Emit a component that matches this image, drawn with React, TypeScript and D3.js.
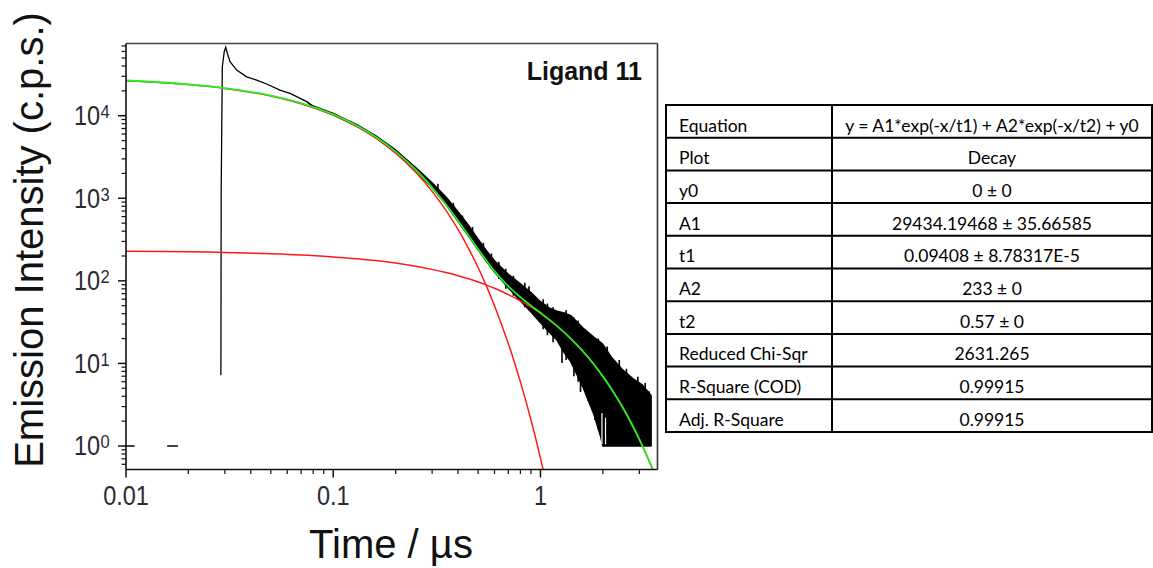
import React from 'react';
import * as d3 from 'd3';

// ---------- axis ticks ----------
const xMajorTicks = [0.01, 0.1, 1];
const xMajorLabels = ['0.01', '0.1', '1'];
const yMajorExponents = [0, 1, 2, 3, 4];

const baseline1Time = [0.01, 0.011];
const baseline1Counts = [1, 1];
const baseline2Time = [0.0158, 0.0178];
const baseline2Counts = [1, 1];

const riseTime = [0.0287, 0.0288, 0.02916, 0.02979, 0.03027, 0.03083, 0.03176, 0.0342, 0.0382, 0.0427, 0.0477, 0.0553, 0.0618, 0.0666, 0.0745];
const riseCounts = [7.2, 1320, 39200, 59600, 67300, 57000, 45100, 35700, 29600, 27000, 24200, 20400, 18600, 17000, 14800];

const bandTime = [0.0745, 0.08, 0.1, 0.13, 0.16, 0.2, 0.25, 0.3, 0.35, 0.4, 0.45, 0.5, 0.55, 0.6, 0.7, 0.8, 0.9, 1.0, 1.1, 1.2, 1.3, 1.4, 1.6, 1.8, 1.95, 2.0, 2.2, 2.5, 2.8, 3.1, 3.42];
const bandUpper = [14800, 13100, 10650, 7800, 5750, 3850, 2350, 1540, 1040, 690, 470, 320, 230, 175, 120, 92, 72, 56, 47, 43, 41, 38, 27, 21, 18, 17, 11.9, 8.3, 6.5, 5.5, 4.1];
const bandLower = [14800, 12700, 10250, 7450, 5450, 3600, 2150, 1340, 840, 525, 345, 238, 170, 128, 82, 57, 42, 31, 24, 19.2, 13.5, 10.5, 5.2, 2.5, 1.3, 1, 1, 1, 1, 1, 1];

// individual noise excursions of the trace
const spikeTime = [0.32, 0.38, 0.42, 0.47, 0.53, 0.58, 0.63, 0.68, 0.74, 0.84, 0.88, 1.03, 1.08, 1.15, 1.27, 1.33, 1.45, 1.52, 1.56, 1.7, 1.83, 1.9, 2.1, 2.29, 2.4, 2.6, 2.7, 2.95, 3.2, 3.34];
const spikeLow = [1150, 620, 440, 300, 195, 140, 105, 80, 66, 48, 44, 26, 22, 18, 10.1, 11, 7, 6, 4.5, 3.5, 2.06, 1.6, 1, 1, 1, 1, 1, 1, 1, 1];
const spikeHigh = [1500, 880, 620, 450, 290, 215, 170, 140, 115, 95, 86, 60, 53, 48, 38, 44, 36, 33, 27, 24, 18, 20, 16, 10.5, 11, 8.6, 6.3, 6.9, 5.8, 4.6];

// white gaps in the noisy floor
const gapTime = [1.98, 2.06];
const gapLow = [1.05, 1.05];
const gapHigh = [2.5, 2.2];

// ---------- fitted curves ----------
const fitTime = [0.01, 0.02, 0.03, 0.05, 0.07, 0.1, 0.13, 0.16, 0.2, 0.25, 0.3, 0.35, 0.4, 0.45, 0.5, 0.55, 0.6, 0.7, 0.8, 0.9, 1.0, 1.2, 1.4, 1.6, 1.8, 2.0, 2.2, 2.5, 2.8, 3.1, 3.4, 3.6];
const fitTotal = [26696, 24023, 21618, 17512, 14193, 10361, 7577, 5548, 3676, 2215, 1351, 840, 535, 352, 242, 174, 131, 85.5, 63.3, 50.1, 41.0, 28.5, 20.0, 14.07, 9.9, 6.97, 4.91, 2.9, 1.71, 1.01, 0.598, 0.42];

const comp1Time = [0.01, 0.02, 0.03, 0.05, 0.07, 0.1, 0.13, 0.16, 0.2, 0.25, 0.3, 0.35, 0.4, 0.45, 0.5, 0.55, 0.6, 0.7, 0.8, 0.9, 1.0, 1.1];
const comp1Counts = [26467, 23798, 21398, 17298, 13987, 10166, 7391, 5372, 3512, 2064, 1213, 714, 419, 246, 145, 85.1, 50.0, 17.3, 5.97, 2.06, 0.713, 0.246];

const comp2Time = [0.01, 0.02, 0.03, 0.05, 0.07, 0.1, 0.13, 0.16, 0.2, 0.25, 0.3, 0.35, 0.4, 0.45, 0.5, 0.55, 0.6, 0.7, 0.8, 0.9, 1.0, 1.2, 1.4, 1.6, 1.8, 2.0, 2.2, 2.5, 2.8, 3.1, 3.4, 3.6];
const comp2Counts = [229, 225, 221, 213, 206, 195, 185.5, 176, 164, 150, 137.7, 126, 115.5, 105.8, 96.9, 88.8, 81.3, 68.2, 57.3, 48.0, 40.3, 28.4, 20.0, 14.07, 9.9, 6.97, 4.91, 2.9, 1.71, 1.01, 0.598, 0.42];

// ---------- fit result table ----------
const tableParams = ['Equation', 'Plot', 'y0', 'A1', 't1', 'A2', 't2', 'Reduced Chi-Sqr', 'R-Square (COD)', 'Adj. R-Square'];
const tableValues = ['y = A1*exp(-x/t1) + A2*exp(-x/t2) + y0', 'Decay', '0 ± 0', '29434.19468 ± 35.66585', '0.09408 ± 8.78317E-5', '233 ± 0', '0.57 ± 0', '2631.265', '0.99915', '0.99915'];

const W = 1153;
const H = 568;
const PL = 126, PR = 657.5, PT = 43.5, PB = 469.5;

const zip = (a: number[], b: number[]) => a.map((v, i) => [v, b[i]] as [number, number]);

export default function App() {
  const x = d3.scaleLog().domain([0.01, 3.67]).range([PL, PR]);
  const y = d3.scaleLog().domain([0.519, 74900]).range([PB, PT]);

  const line = d3.line<[number, number]>().x(d => x(d[0])).y(d => y(d[1]));
  const smooth = d3.line<[number, number]>().x(d => x(d[0])).y(d => y(d[1])).curve(d3.curveCatmullRom.alpha(0.5));
  const band = d3.area<number>()
    .x((_, i) => x(bandTime[i]))
    .y0((_, i) => y(bandLower[i]))
    .y1((_, i) => y(bandUpper[i]));

  const xMinor: number[] = [];
  [0.01, 0.1, 1].forEach(d => { for (let k = 2; k <= 9; k++) { const v = k * d; if (v <= 3.67) xMinor.push(v); } });
  const yMinor: number[] = [];
  [0.1, 1, 10, 100, 1000, 10000].forEach(d => { for (let k = 2; k <= 9; k++) { const v = k * d; if (v >= 0.519 && v <= 74900) yMinor.push(v); } });

  const axisFont = '"Liberation Sans", Arial, sans-serif';
  const tableFont = 'Lato, "Open Sans", sans-serif';
  const rowH = 32.7;
  const tTop = 105, tLeft = 666, tRight = 1152, tDiv = 832;
  const tBottom = tTop + rowH * tableParams.length;

  return (
    <svg width={W} height={H} style={{ position: 'absolute', left: 0, top: 0, background: '#fff' }}>
      <defs>
        <clipPath id="plotClip">
          <rect x={PL} y={PT} width={PR - PL} height={PB - PT} />
        </clipPath>
      </defs>
      <rect x={0} y={0} width={W} height={H} fill="#fff" />

      <g clipPath="url(#plotClip)">
        {/* measured data */}
        <path d={line(zip(baseline1Time, baseline1Counts)) || ''} stroke="#000" strokeWidth={1.3} fill="none" />
        <path d={line(zip(baseline2Time, baseline2Counts)) || ''} stroke="#000" strokeWidth={1.3} fill="none" />
        <path d={line(zip(riseTime, riseCounts)) || ''} stroke="#000" strokeWidth={1.3} fill="none" />
        <path d={band(bandTime) || ''} fill="#000" stroke="#000" strokeWidth={1.4} strokeLinejoin="round" />
        {spikeTime.map((t, i) => (
          <line key={'s' + i} x1={x(t)} x2={x(t)} y1={y(spikeLow[i])} y2={y(spikeHigh[i])} stroke="#000" strokeWidth={1.6} />
        ))}
        {gapTime.map((t, i) => (
          <line key={'g' + i} x1={x(t)} x2={x(t)} y1={y(gapLow[i])} y2={y(gapHigh[i])} stroke="#fff" strokeWidth={1.2} />
        ))}
        {/* fit components */}
        <path d={smooth(zip(comp2Time, comp2Counts)) || ''} stroke="#ff1a1a" strokeWidth={1.5} fill="none" />
        <path d={smooth(zip(comp1Time, comp1Counts)) || ''} stroke="#ff1a1a" strokeWidth={1.5} fill="none" />
        <path d={smooth(zip(fitTime, fitTotal)) || ''} stroke="#22ee22" strokeWidth={1.8} fill="none" />
      </g>

      {/* frame */}
      <line x1={PL} x2={PR} y1={PT} y2={PT} stroke="#444" strokeWidth={1.6} />
      <line x1={PR} x2={PR} y1={PT} y2={PB} stroke="#333" strokeWidth={1.6} />
      <line x1={PL} x2={PL} y1={PT} y2={PB} stroke="#111" strokeWidth={1.6} />
      <line x1={PL} x2={PR} y1={PB} y2={PB} stroke="#111" strokeWidth={1.6} />

      {/* x ticks */}
      {xMajorTicks.map((t, i) => (
        <g key={'xm' + i}>
          <line x1={x(t)} x2={x(t)} y1={PB} y2={PB + 8} stroke="#111" strokeWidth={1.5} />
          <text transform={`translate(${x(t)},505) scale(0.87,1)`} textAnchor="middle" fontFamily={axisFont} fontSize={27} fill="#2a2a33">{xMajorLabels[i]}</text>
        </g>
      ))}
      {xMinor.map((t, i) => (
        <line key={'xn' + i} x1={x(t)} x2={x(t)} y1={PB} y2={PB + 4.5} stroke="#111" strokeWidth={1.2} />
      ))}

      {/* y ticks */}
      {yMajorExponents.map(e => {
        const py = y(Math.pow(10, e));
        return (
          <g key={'ym' + e}>
            <line x1={PL - 8} x2={PL} y1={py} y2={py} stroke="#111" strokeWidth={1.5} />
            <text transform={`translate(100,${py + 9.5}) scale(0.87,1)`} textAnchor="end" fontFamily={axisFont} fontSize={27} fill="#2a2a33">10</text>
            <text transform={`translate(100.5,${py + 2.5}) scale(0.87,1)`} textAnchor="start" fontFamily={axisFont} fontSize={19} fill="#2a2a33">{String(e)}</text>
          </g>
        );
      })}
      {yMinor.map((t, i) => (
        <line key={'yn' + i} x1={PL - 4.5} x2={PL} y1={y(t)} y2={y(t)} stroke="#111" strokeWidth={1.2} />
      ))}

      {/* titles */}
      <text transform="translate(43,240) rotate(-90)" textAnchor="middle" fontFamily={axisFont} fontSize={40} fill="#111">Emission Intensity (c.p.s.)</text>
      <text x={391} y={558} textAnchor="middle" fontFamily={axisFont} fontSize={40} fill="#111">Time / µs</text>
      <text x={642} y={80} textAnchor="end" fontFamily={axisFont} fontSize={25} fontWeight="bold" fill="#111">Ligand 11</text>

      {/* table */}
      <g>
        {tableParams.map((p, i) => {
          const top = tTop + i * rowH;
          return (
            <g key={'row' + i}>
              <text x={tLeft + 13} y={top + 26.5} fontFamily={tableFont} fontSize={17.5} fill="#000">{p}</text>
              <text x={(tDiv + tRight) / 2} y={top + 26.5} textAnchor="middle" fontFamily={tableFont} fontSize={17.5} fill="#000">{tableValues[i]}</text>
            </g>
          );
        })}
        {tableParams.slice(1).map((_, i) => (
          <line key={'hl' + i} x1={tLeft} x2={tRight} y1={tTop + (i + 1) * rowH} y2={tTop + (i + 1) * rowH} stroke="#000" strokeWidth={2} />
        ))}
        <line x1={tDiv} x2={tDiv} y1={tTop} y2={tBottom} stroke="#000" strokeWidth={2} />
        <rect x={tLeft} y={tTop} width={tRight - tLeft} height={tBottom - tTop} fill="none" stroke="#000" strokeWidth={2} />
      </g>
    </svg>
  );
}
